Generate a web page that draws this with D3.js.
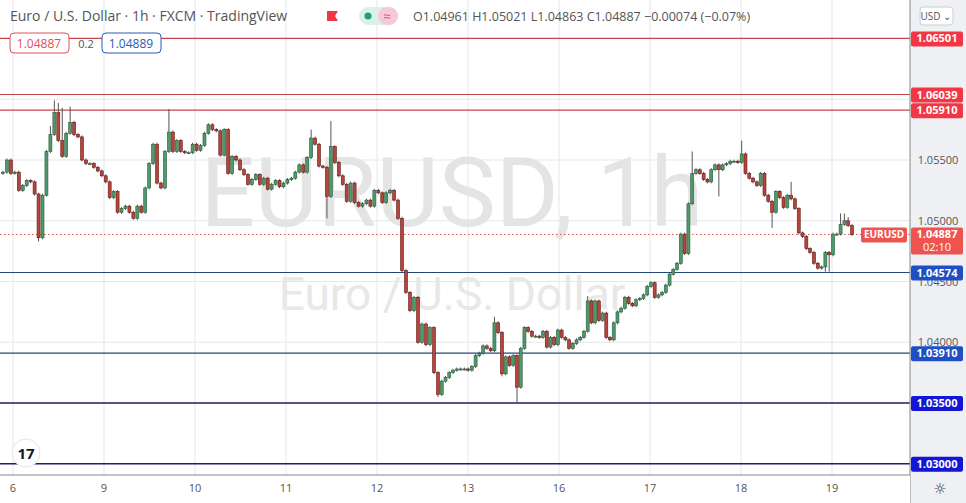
<!DOCTYPE html>
<html><head><meta charset="utf-8">
<script src="https://cdn.jsdelivr.net/npm/d3@7"></script>
<style>body{margin:0;background:#fff;font-family:"Open Sans","DejaVu Sans",sans-serif}</style>
</head><body><svg id="c" width="966" height="503"></svg>
<script>
// closes (open = previous close)
const firstOpen = 1.0539;
const closes = [1.0540,1.0550,1.0539,1.0540,1.0525,1.0529,1.0533,1.0532,1.0522,1.0486,1.0521,1.0557,1.0571,1.0589,1.0566,1.0553,1.0572,1.0581,1.0571,1.0569,1.0550,1.0547,1.0547,1.0544,1.0541,1.0537,1.0532,1.0519,1.0524,1.0507,1.0510,1.0512,1.0507,1.0502,1.0512,1.0507,1.0527,1.0547,1.0563,1.0531,1.0527,1.0557,1.0573,1.0557,1.0566,1.0557,1.0556,1.0556,1.0563,1.0558,1.0562,1.0572,1.0579,1.0575,1.0574,1.0554,
1.0575,1.0539,1.0553,1.0550,1.0542,1.0538,1.0530,1.0534,1.0538,1.0530,1.0535,1.0526,1.0530,1.0533,1.0528,1.0531,1.0534,1.0535,1.0540,1.0546,1.0540,1.0552,1.0568,1.0563,1.0545,1.0544,1.0520,1.0561,1.0548,1.0537,1.0530,1.0516,1.0531,1.0515,1.0512,1.0514,1.0517,1.0512,
1.0525,1.0523,1.0515,1.0523,1.0525,1.0517,1.0502,1.0459,1.0441,1.0426,1.0437,1.0400,1.0415,1.0398,1.0412,1.0375,1.0357,1.0368,1.0371,1.0375,1.0377,
1.0378,1.0378,1.0378,1.0377,1.0380,1.0389,1.0391,1.0397,1.0395,1.0393,1.0416,1.0408,1.0374,1.0388,1.0381,1.0389,1.0363,1.0395,1.0412,1.0409,1.0405,1.0405,1.0404,1.0409,1.0396,1.0404,1.0398,1.0410,1.0404,1.0402,1.0395,1.0399,1.0402,1.0404,1.0409,1.0434,1.0416,1.0434,1.0418,1.0424,1.0404,1.0402,1.0416,1.0425,1.0428,1.0437,1.0432,1.0430,1.0435,1.0436,1.0439,1.0446,1.0449,1.0437,1.0439,1.0441,1.0447,1.0456,1.0460,
1.0465,1.0489,1.0473,1.0514,1.0539,1.0542,1.0539,1.0534,1.0532,1.0542,1.0546,1.0542,1.0546,1.0547,1.0549,1.0549,1.0548,1.0555,1.0539,1.0535,1.0532,1.0529,1.0539,1.0521,1.0516,1.0507,1.0524,1.0519,1.0511,1.0521,1.0518,1.0510,1.0490,1.0487,1.0477,1.0474,1.0465,1.0461,1.0462,1.0474,1.0472,1.0489,1.0489,1.0497,1.0500,1.0496,1.04887];
// notable wick extremes by candle index
const wickHighs = {9:1.0523,12:1.0578,13:1.0599,14:1.0597,15:1.0593,17:1.0594,42:1.0592,78:1.0575,83:1.0582,125:1.0421,150:1.0438,178:1.0557,191:1.0566,204:1.0532,217:1.0506,218:1.0506,219:1.0503};
const wickLows = {9:1.0483,82:1.0502,110:1.0355,127:1.0372,131:1.0350,185:1.0520,199:1.0494,213:1.0458,214:1.0458};
const days = ["6","9","10","11","12","13","16","17","18","19"];
const redLevels = [1.06501,1.06039,1.05910];
const blueLevels = [1.04574,1.03910];
const navyLevels = [1.03500,1.03000];
const yTicks = [1.04000,1.04500,1.05000,1.05500];
const lastPrice = 1.04887;

const svg = d3.select("#c");
const W=966,H=503,PR=910,PB=475;
const y = d3.scaleLinear().domain([1.035,1.055]).range([403,160]);
const N=closes.length-1;
const x = d3.scaleLinear().domain([0,101,110,131,174,N]).range([3,402,438,517,677,852]);
const xDay = d3.scaleLinear().domain([0,9]).range([13,832]);

svg.append("g").selectAll("line").data(days).join("line")
 .attr("x1",(d,i)=>xDay(i)).attr("x2",(d,i)=>xDay(i)).attr("y1",0).attr("y2",PB).attr("stroke","#e6e7eb");
svg.append("g").selectAll("line").data(d3.range(1.030,1.0651,0.005)).join("line")
 .attr("x1",0).attr("x2",PR).attr("y1",d=>y(d)).attr("y2",d=>y(d)).attr("stroke","#e6e7eb");

svg.append("text").attr("x",452).attr("y",226).attr("text-anchor","middle").attr("font-size",96).attr("fill","#e4e4e4").attr("font-family","Roboto, sans-serif").text("EURUSD, 1h");
svg.append("text").attr("x",452).attr("y",310).attr("text-anchor","middle").attr("font-size",46).attr("fill","#e8e8e8").attr("font-family","Roboto, sans-serif").text("Euro / U.S. Dollar");

const lv=(arr,col,w)=>svg.append("g").selectAll("line").data(arr).join("line")
 .attr("x1",0).attr("x2",PR).attr("y1",d=>y(d)).attr("y2",d=>y(d)).attr("stroke",col).attr("stroke-width",w);
lv(redLevels,"#c9434b",1.2); lv(blueLevels,"#24477a",1.2); lv(navyLevels,"#1d1f6e",1.5);
svg.append("line").attr("x1",0).attr("x2",PR).attr("y1",y(lastPrice)).attr("y2",y(lastPrice)).attr("stroke","#d2584c").attr("stroke-dasharray","1.5,2.5");

const data = closes.map((c,i)=>{const o=i?closes[i-1]:firstOpen;
  const hi = wickHighs[i]!==undefined?wickHighs[i]:Math.max(o,c)+0.00012;
  const lo = wickLows[i]!==undefined?wickLows[i]:Math.min(o,c)-0.00012;
  return {i,o,c,hi,lo};});
const g=svg.append("g");
g.selectAll("line").data(data).join("line").attr("x1",d=>x(d.i)).attr("x2",d=>x(d.i))
 .attr("y1",d=>y(d.hi)).attr("y2",d=>y(d.lo)).attr("stroke","#555").attr("stroke-width",1);
g.selectAll("rect").data(data).join("rect").attr("x",d=>x(d.i)-1.5).attr("width",3)
 .attr("y",d=>y(Math.max(d.o,d.c))).attr("height",d=>Math.max(1,Math.abs(y(d.o)-y(d.c))))
 .attr("fill",d=>d.c>=d.o?"#4e9a6c":"#b9443a").attr("stroke",d=>d.c>=d.o?"#2b5a3c":"#5e1c17").attr("stroke-width",0.6);

svg.append("rect").attr("x",PR).attr("y",0).attr("width",W-PR).attr("height",H).attr("fill","#eef0f4");
svg.append("line").attr("x1",PR).attr("x2",PR).attr("y1",0).attr("y2",H).attr("stroke","#888");
svg.append("rect").attr("x",0).attr("y",PB).attr("width",PR).attr("height",H-PB).attr("fill","#fff");
svg.append("line").attr("x1",0).attr("x2",PR).attr("y1",PB).attr("y2",PB).attr("stroke","#888");
svg.append("g").selectAll("text").data(yTicks).join("text").attr("x",938).attr("y",d=>y(d)+4).attr("text-anchor","middle")
 .attr("font-size",11).attr("fill","#555").text(d=>d.toFixed(5));
const tag=(v,col,txt,h)=>{const yy=y(v);svg.append("rect").attr("x",911).attr("y",yy-7).attr("width",52).attr("height",h||15).attr("rx",2).attr("fill",col);
 svg.append("text").attr("x",937).attr("y",yy+4).attr("text-anchor","middle").attr("font-size",11).attr("font-weight","bold").attr("fill","#fff").text(txt);};
redLevels.forEach(v=>tag(v,"#f23645",v.toFixed(5)));
blueLevels.forEach(v=>tag(v,"#1f4fc4",v.toFixed(5)));
navyLevels.forEach(v=>tag(v,"#1515d4",v.toFixed(5)));
tag(lastPrice,"#ef5350",lastPrice.toFixed(5),27);
svg.append("text").attr("x",937).attr("y",y(lastPrice)+17).attr("text-anchor","middle").attr("font-size",11).attr("fill","#fff").text("02:10");
svg.append("rect").attr("x",861).attr("y",y(lastPrice)-7).attr("width",46).attr("height",15).attr("rx",2).attr("fill","#ef5350");
svg.append("text").attr("x",884).attr("y",y(lastPrice)+4).attr("text-anchor","middle").attr("font-size",10).attr("font-weight","bold").attr("fill","#fff").text("EURUSD");
svg.append("rect").attr("x",920).attr("y",7).attr("width",33).attr("height",18).attr("rx",3).attr("fill","#fff").attr("stroke","#ccc");
svg.append("text").attr("x",936).attr("y",20).attr("text-anchor","middle").attr("font-size",10).attr("fill","#555").text("USD ⌄");
svg.append("text").attr("x",940).attr("y",494).attr("text-anchor","middle").attr("font-size",15).attr("fill","#333").text("☼");

svg.append("g").selectAll("text").data(days).join("text").attr("x",(d,i)=>xDay(i)).attr("y",492).attr("text-anchor","middle")
 .attr("font-size",11).attr("fill","#555").text(d=>d);

svg.append("text").attr("x",10).attr("y",21).attr("font-size",14).attr("fill","#555").text("Euro / U.S. Dollar · 1h · FXCM · TradingView");
svg.append("path").attr("d","M327,11h11l-3,5 3,5h-11z").attr("fill","#f23645");
svg.append("rect").attr("x",359).attr("y",7).attr("width",39).attr("height",18).attr("rx",9).attr("fill","#dcefe9");
svg.append("rect").attr("x",378).attr("y",7).attr("width",20).attr("height",18).attr("rx",9).attr("fill","#f7c8d6");
svg.append("circle").attr("cx",368).attr("cy",16).attr("r",3.5).attr("fill","#1f9e78");
svg.append("text").attr("x",387).attr("y",21).attr("text-anchor","middle").attr("font-size",13).attr("fill","#e0507a").text("≈");
svg.append("text").attr("x",413).attr("y",21).attr("font-size",12.5).attr("fill","#555").text("O1.04961  H1.05021  L1.04863  C1.04887  −0.00074 (−0.07%)");
svg.append("rect").attr("x",10).attr("y",33).attr("width",59).attr("height",20).attr("rx",4).attr("fill","#fff").attr("stroke","#e0505a");
svg.append("text").attr("x",39).attr("y",48).attr("text-anchor","middle").attr("font-size",12).attr("fill","#e0505a").text("1.04887");
svg.append("text").attr("x",86).attr("y",48).attr("text-anchor","middle").attr("font-size",11).attr("fill","#555").text("0.2");
svg.append("rect").attr("x",102).attr("y",33).attr("width",59).attr("height",20).attr("rx",4).attr("fill","#fff").attr("stroke","#2a5bb8");
svg.append("text").attr("x",131).attr("y",48).attr("text-anchor","middle").attr("font-size",12).attr("fill","#2a5bb8").text("1.04889");
svg.append("circle").attr("cx",26).attr("cy",453).attr("r",14).attr("fill","#fff").attr("stroke","#e4e4e4");
svg.append("text").attr("x",26).attr("y",459).attr("text-anchor","middle").attr("font-size",15).attr("font-weight","bold").attr("fill","#131722").text("17");
</script></body></html>
